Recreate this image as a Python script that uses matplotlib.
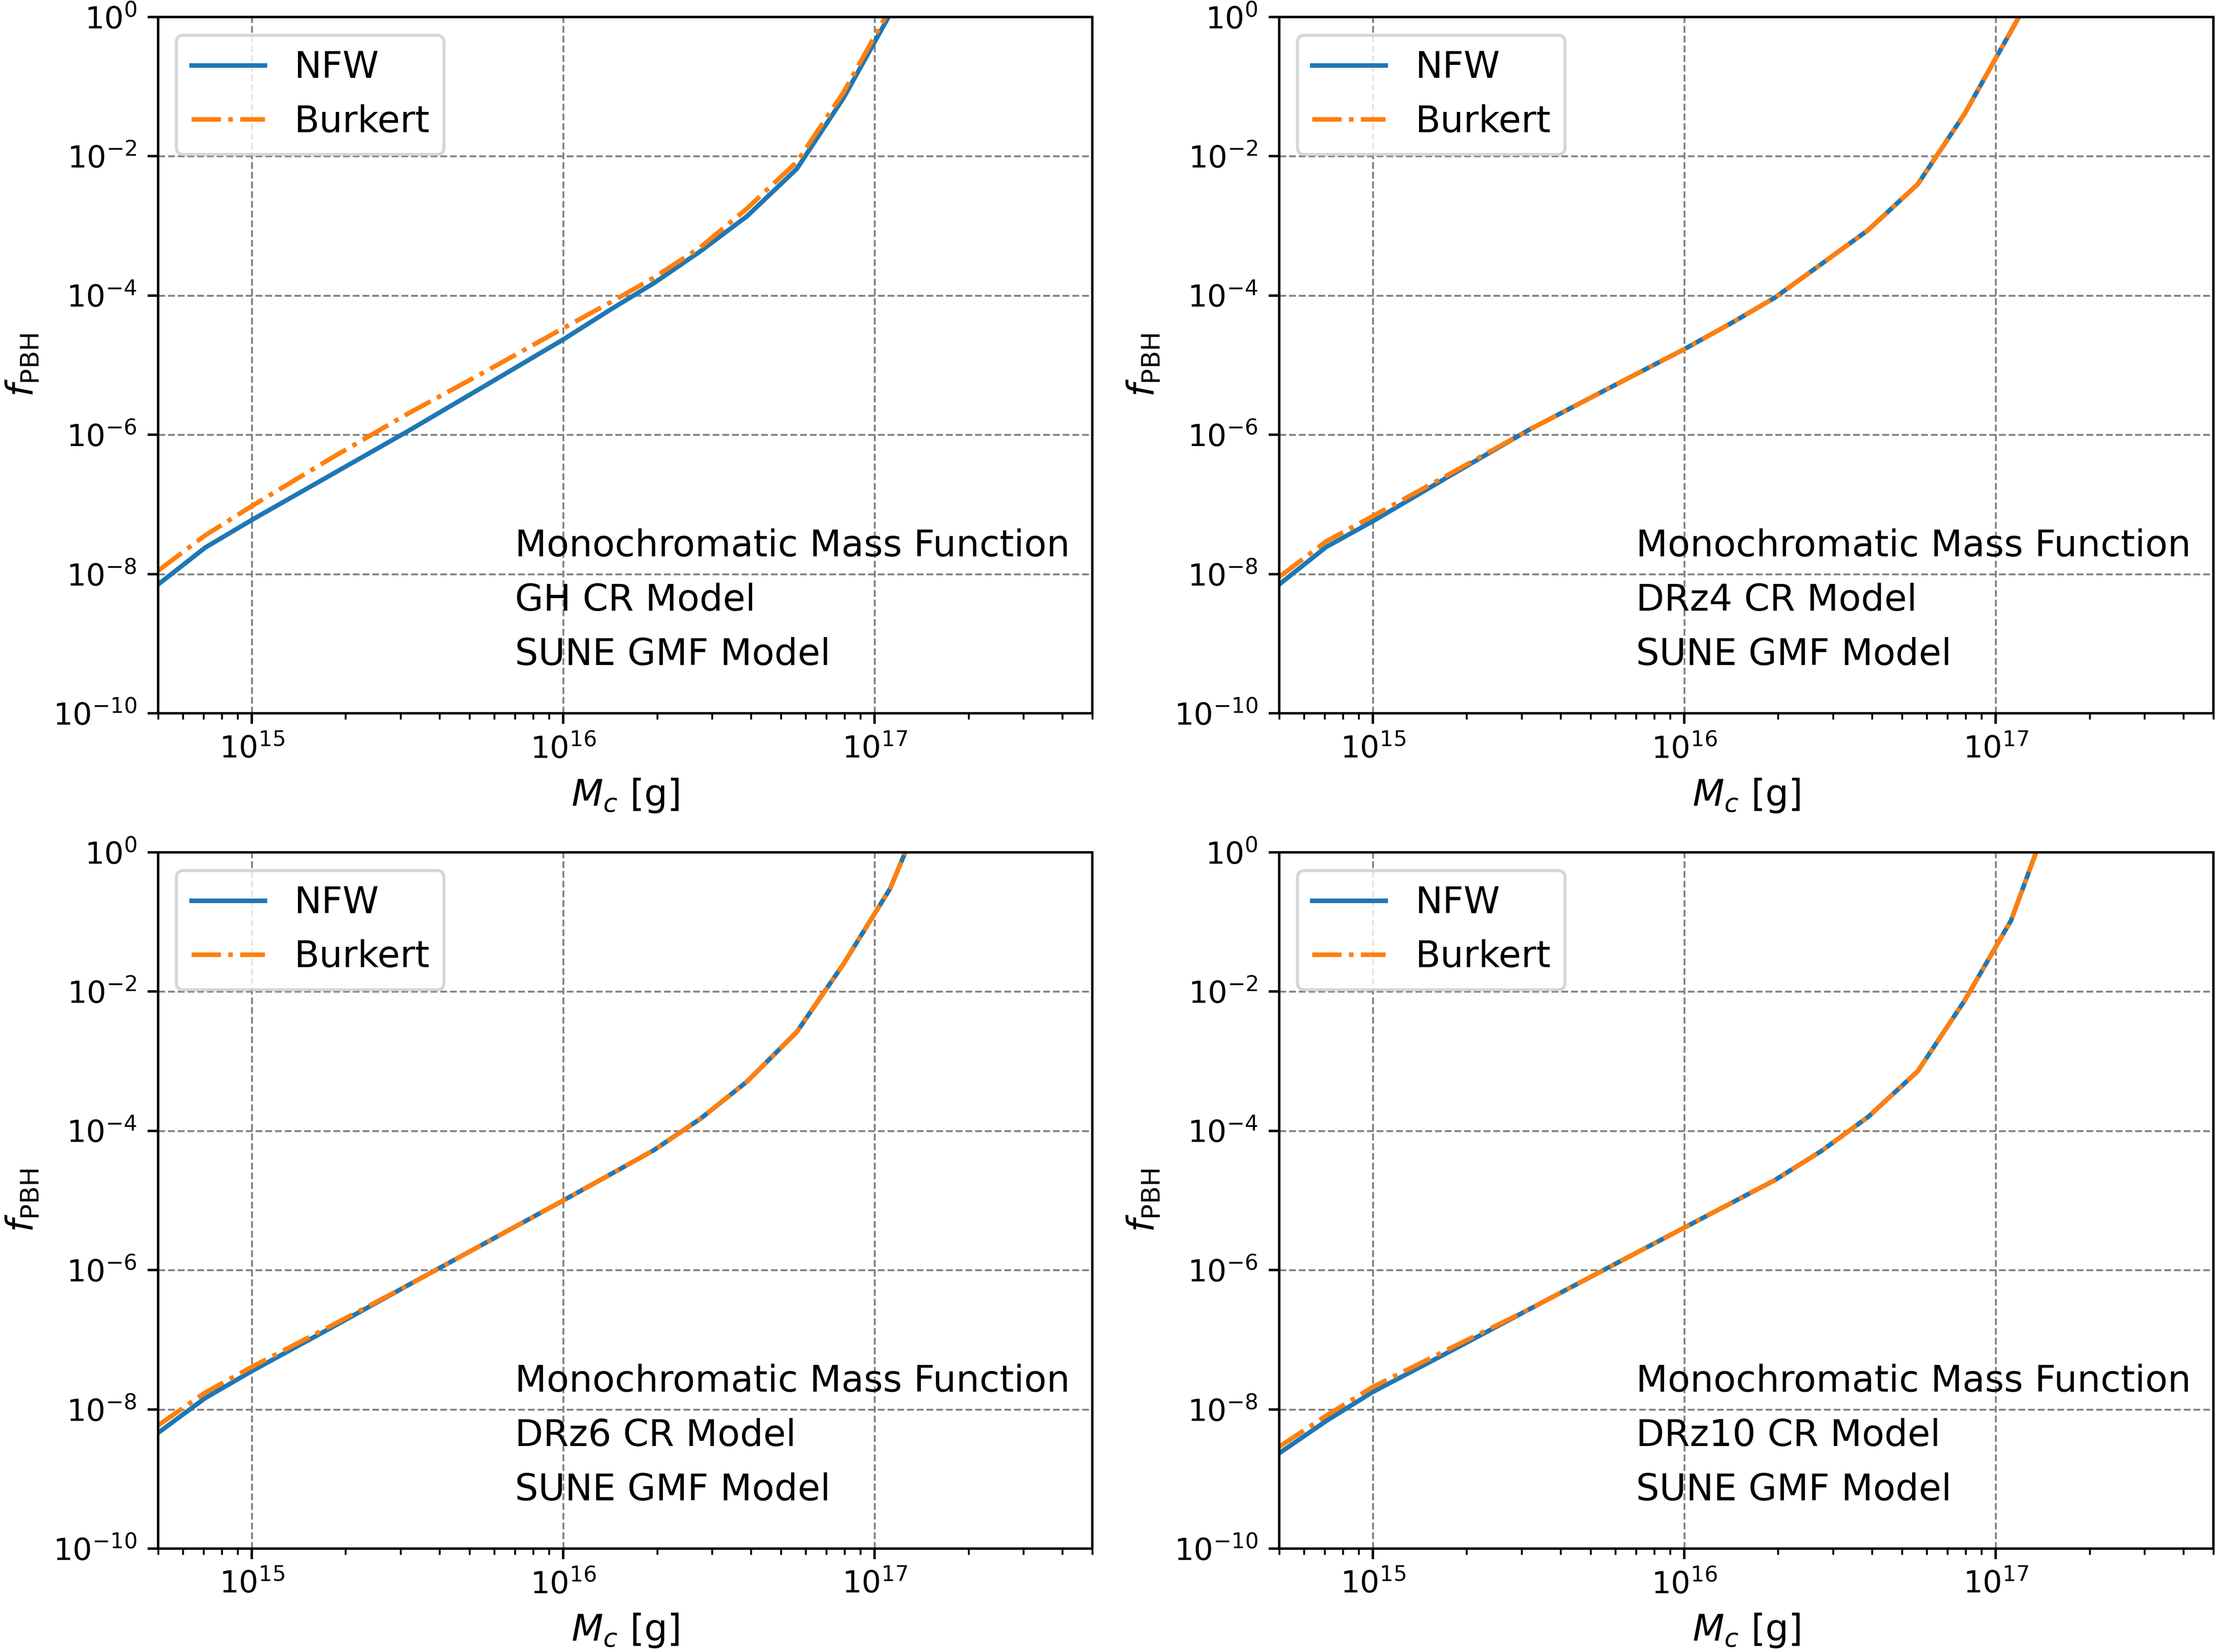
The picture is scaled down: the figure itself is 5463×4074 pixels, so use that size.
import matplotlib
matplotlib.use('Agg')
import matplotlib.pyplot as plt
from matplotlib.ticker import NullLocator

# PBH mass grid [g]
mass = [5.0e14, 7.08e14, 1.0e15, 1.78e15, 3.16e15, 5.62e15, 1.0e16, 1.41e16,
        1.95e16, 2.75e16, 3.89e16, 5.62e16, 7.94e16, 1.12e17, 1.58e17]

# f_PBH upper limits, GH CR model
gh_nfw = [7.1e-9, 2.4e-8, 6.0e-8, 2.6e-7, 1.12e-6, 5.1e-6, 2.34e-5, 6.2e-5,
          1.5e-4, 4.3e-4, 1.38e-3, 6.6e-3, 6.9e-2, 1.1, 16.0]
gh_burkert = [1.12e-8, 3.6e-8, 9.5e-8, 4.5e-7, 2.0e-6, 8.1e-6, 3.4e-5, 7.9e-5,
              1.8e-4, 4.9e-4, 1.78e-3, 8.3e-3, 8.3e-2, 1.32, 20.0]

# DRz4 CR model
drz4_nfw = [7.1e-9, 2.45e-8, 5.75e-8, 2.63e-7, 1.17e-6, 4.47e-6, 1.7e-5, 3.98e-5,
            9.3e-5, 2.82e-4, 8.7e-4, 3.98e-3, 4.07e-2, 0.63, 10.0]
drz4_burkert = [9.1e-9, 2.95e-8, 6.8e-8, 2.8e-7, 1.17e-6, 4.47e-6, 1.7e-5, 3.98e-5,
                9.3e-5, 2.82e-4, 8.7e-4, 3.98e-3, 4.07e-2, 0.63, 10.0]

# DRz6 CR model
drz6_nfw = [4.6e-9, 1.45e-8, 3.55e-8, 1.45e-7, 6.0e-7, 2.45e-6, 1.0e-5, 2.34e-5,
            5.25e-5, 1.48e-4, 5.1e-4, 2.63e-3, 2.5e-2, 0.30, 12.0]
drz6_burkert = [5.9e-9, 1.74e-8, 4.07e-8, 1.55e-7, 6.0e-7, 2.45e-6, 1.0e-5, 2.34e-5,
                5.25e-5, 1.48e-4, 5.1e-4, 2.63e-3, 2.5e-2, 0.30, 12.0]

# DRz10 CR model
drz10_nfw = [2.34e-9, 6.8e-9, 1.78e-8, 6.9e-8, 2.7e-7, 1.05e-6, 4.07e-6, 9.1e-6,
             1.95e-5, 5.1e-5, 1.58e-4, 7.2e-4, 7.4e-3, 0.105, 7.0]
drz10_burkert = [2.9e-9, 8.1e-9, 2.1e-8, 7.6e-8, 2.7e-7, 1.05e-6, 4.07e-6, 9.1e-6,
                 1.95e-5, 5.1e-5, 1.58e-4, 7.2e-4, 7.4e-3, 0.105, 7.0]

cr_models = ['GH', 'DRz4', 'DRz6', 'DRz10']
nfw_data = [gh_nfw, drz4_nfw, drz6_nfw, drz10_nfw]
burkert_data = [gh_burkert, drz4_burkert, drz6_burkert, drz10_burkert]

yticks = [1e-10, 1e-8, 1e-6, 1e-4, 1e-2, 1e0]


def make_panel(fig, rect, nfw, burkert, cr_name):
	ax = fig.add_axes(rect)
	ax.plot(mass, nfw, '-', color='C0', lw=1.5, label='NFW')
	ax.plot(mass, burkert, '-.', color='C1', lw=1.5, label='Burkert')
	ax.set_xscale('log')
	ax.set_yscale('log')
	ax.set_xlim(5e14, 5e17)
	ax.set_ylim(1e-10, 1e0)
	ax.set_yticks(yticks)
	ax.yaxis.set_minor_locator(NullLocator())
	ax.grid(True, which='major', ls='--', color='gray', lw=0.6)
	ax.set_xlabel(r'$M_c$ [g]', fontsize=12)
	ax.set_ylabel(r'$f_{\rm PBH}$', fontsize=12)
	ax.legend(loc='upper left', fontsize=12)

	lines = ['Monochromatic Mass Function', cr_name + ' CR Model', 'SUNE GMF Model']
	for i, txt in enumerate(lines):
		ax.text(0.382, 0.2254 - 0.078 * i, txt, transform=ax.transAxes,
				fontsize=12, va='baseline', ha='left')
	return ax


def main():
	dpi = 543
	fig = plt.figure(figsize=(5463 / dpi, 4074 / dpi), dpi=dpi)

	w, h = 0.4218, 0.4215
	rects = [[0.0714, 0.5682, w, h], [0.5775, 0.5682, w, h],
			 [0.0714, 0.0626, w, h], [0.5775, 0.0626, w, h]]

	for rect, nfw, bur, name in zip(rects, nfw_data, burkert_data, cr_models):
		make_panel(fig, rect, nfw, bur, name)

	fig.savefig('out.png', dpi=dpi)


if __name__ == '__main__':
	main()
